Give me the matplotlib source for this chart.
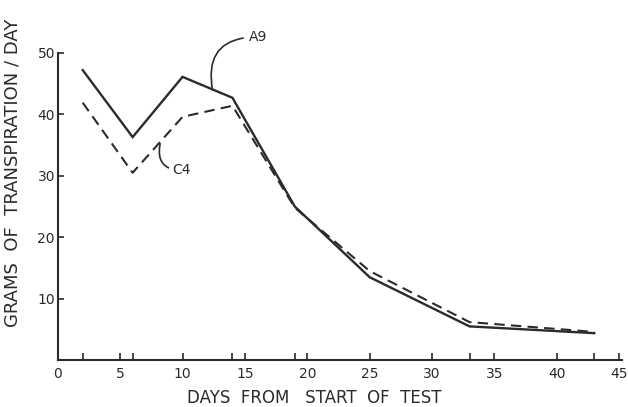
import matplotlib.pyplot as plt
import matplotlib as mpl

mpl.rcParams['font.family'] = 'DejaVu Sans'
mpl.rcParams['xtick.direction'] = 'in'
mpl.rcParams['ytick.direction'] = 'in'

# data
days = [2, 6, 10, 14, 19, 25, 33, 43]
a9 = [47.2, 36.3, 46.1, 42.7, 25.0, 13.5, 5.5, 4.4]
c4 = [41.9, 30.5, 39.6, 41.4, 24.8, 14.5, 6.2, 4.6]

xticks = [0, 5, 10, 15, 20, 25, 30, 35, 40, 45]
yticks = [10, 20, 30, 40, 50]

ink = '#2b2b2b'

fig = plt.figure(figsize=(6.28, 4.07), dpi=100)
ax = fig.add_axes([0.092, 0.115, 0.898, 0.755])

ax.plot(days, a9, color=ink, lw=1.7, solid_joinstyle='miter')
ax.plot(days, c4, color=ink, lw=1.5, linestyle=(0, (5, 3)))

ax.set_xlim(0, 45.2)
ax.set_ylim(0, 50)
ax.spines['top'].set_visible(False)
ax.spines['right'].set_visible(False)
for s in ['left', 'bottom']:
    ax.spines[s].set_linewidth(1.5)
    ax.spines[s].set_color(ink)

ax.set_xticks(xticks)
ax.set_xticks([d for d in days if d not in xticks], minor=True)
ax.set_yticks(yticks)
ax.tick_params(axis='both', which='both', colors=ink, labelsize=10, width=1.2)
ax.tick_params(axis='x', which='major', length=5, pad=5)
ax.tick_params(axis='x', which='minor', length=5)
ax.tick_params(axis='y', length=4, pad=2)

ax.set_xlabel('DAYS  FROM   START  OF  TEST', fontsize=12, color=ink)
ax.xaxis.set_label_coords(0.455, -0.095)
ax.set_ylabel('GRAMS  OF  TRANSPIRATION / DAY', fontsize=13, color=ink)
ax.yaxis.set_label_coords(-0.065, 0.61)

# curly leader labels, as drawn on the original
ax.annotate('A9', xy=(12.4, 44.0), xytext=(15.3, 52.6), fontsize=10, color=ink,
            va='center', ha='left', annotation_clip=False,
            arrowprops=dict(arrowstyle='-', color=ink, lw=1.2,
                            shrinkA=2, shrinkB=0,
                            connectionstyle='angle3,angleA=180,angleB=-80'))
ax.annotate('C4', xy=(8.2, 35.2), xytext=(9.2, 30.9), fontsize=10, color=ink,
            va='center', ha='left', annotation_clip=False,
            arrowprops=dict(arrowstyle='-', color=ink, lw=1.2,
                            shrinkA=1, shrinkB=0,
                            connectionstyle='arc3,rad=-0.6'))

fig.savefig('out.png', dpi=100)
